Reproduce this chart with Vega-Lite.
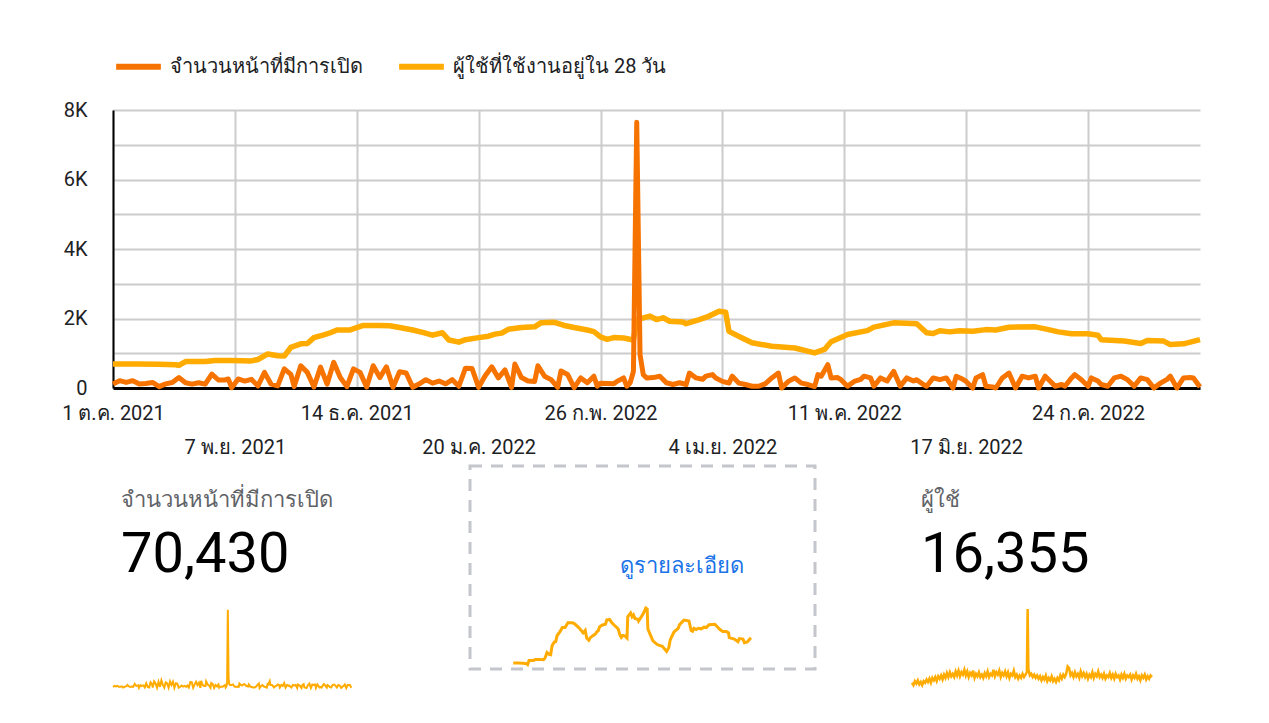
{
  "$schema": "https://vega.github.io/schema/vega-lite/v6.json",
  "background": "white",
  "padding": {"left": 61, "top": 41, "right": 10, "bottom": 10},
  "config": {
    "font": "Roboto",
    "view": {"stroke": null},
    "axis": {"labelFont": "Roboto", "titleFont": "Roboto"},
    "legend": {"labelFont": "Roboto"},
    "title": {"font": "Roboto", "subtitleFont": "Roboto"}
  },
  "datasets": {
    "views": [
      {"date":"2021-10-01","value":115},{"date":"2021-10-03","value":210},{"date":"2021-10-05","value":160},{"date":"2021-10-07","value":210},
      {"date":"2021-10-09","value":115},{"date":"2021-10-11","value":130},{"date":"2021-10-13","value":160},{"date":"2021-10-15","value":40},
      {"date":"2021-10-17","value":120},{"date":"2021-10-19","value":160},{"date":"2021-10-21","value":300},{"date":"2021-10-23","value":150},
      {"date":"2021-10-25","value":110},{"date":"2021-10-27","value":150},{"date":"2021-10-29","value":110},{"date":"2021-10-31","value":400},
      {"date":"2021-11-02","value":230},{"date":"2021-11-04","value":230},{"date":"2021-11-05","value":260},{"date":"2021-11-06","value":10},
      {"date":"2021-11-08","value":260},{"date":"2021-11-10","value":200},{"date":"2021-11-12","value":250},{"date":"2021-11-14","value":60},
      {"date":"2021-11-16","value":450},{"date":"2021-11-18","value":110},{"date":"2021-11-20","value":60},{"date":"2021-11-22","value":550},
      {"date":"2021-11-24","value":390},{"date":"2021-11-25","value":40},{"date":"2021-11-27","value":640},{"date":"2021-11-29","value":450},
      {"date":"2021-12-01","value":30},{"date":"2021-12-03","value":600},{"date":"2021-12-05","value":110},{"date":"2021-12-07","value":740},
      {"date":"2021-12-09","value":300},{"date":"2021-12-11","value":40},{"date":"2021-12-13","value":550},{"date":"2021-12-15","value":450},
      {"date":"2021-12-17","value":30},{"date":"2021-12-19","value":640},{"date":"2021-12-21","value":300},{"date":"2021-12-23","value":610},
      {"date":"2021-12-25","value":20},{"date":"2021-12-27","value":470},{"date":"2021-12-29","value":430},{"date":"2021-12-31","value":20},
      {"date":"2022-01-02","value":120},{"date":"2022-01-04","value":240},{"date":"2022-01-06","value":140},{"date":"2022-01-08","value":200},
      {"date":"2022-01-10","value":120},{"date":"2022-01-12","value":240},{"date":"2022-01-14","value":50},{"date":"2022-01-16","value":570},
      {"date":"2022-01-18","value":560},{"date":"2022-01-20","value":20},{"date":"2022-01-22","value":350},{"date":"2022-01-24","value":610},
      {"date":"2022-01-26","value":290},{"date":"2022-01-28","value":520},{"date":"2022-01-30","value":20},{"date":"2022-01-31","value":690},
      {"date":"2022-02-02","value":300},{"date":"2022-02-04","value":200},{"date":"2022-02-06","value":190},{"date":"2022-02-07","value":640},
      {"date":"2022-02-09","value":340},{"date":"2022-02-11","value":240},{"date":"2022-02-13","value":20},{"date":"2022-02-14","value":490},
      {"date":"2022-02-16","value":390},{"date":"2022-02-18","value":10},{"date":"2022-02-20","value":290},{"date":"2022-02-22","value":150},
      {"date":"2022-02-24","value":340},{"date":"2022-02-25","value":50},{"date":"2022-02-26","value":140},{"date":"2022-02-28","value":130},
      {"date":"2022-03-02","value":120},{"date":"2022-03-03","value":190},{"date":"2022-03-05","value":290},{"date":"2022-03-06","value":50},
      {"date":"2022-03-07","value":150},{"date":"2022-03-08","value":480},{"date":"2022-03-09","value":7650},{"date":"2022-03-10","value":960},
      {"date":"2022-03-11","value":380},{"date":"2022-03-12","value":290},{"date":"2022-03-14","value":300},{"date":"2022-03-16","value":340},
      {"date":"2022-03-18","value":150},{"date":"2022-03-20","value":100},{"date":"2022-03-22","value":150},{"date":"2022-03-24","value":100},
      {"date":"2022-03-25","value":430},{"date":"2022-03-27","value":290},{"date":"2022-03-29","value":250},{"date":"2022-03-30","value":340},
      {"date":"2022-04-01","value":385},{"date":"2022-04-02","value":290},{"date":"2022-04-04","value":190},{"date":"2022-04-06","value":140},
      {"date":"2022-04-07","value":340},{"date":"2022-04-09","value":140},{"date":"2022-04-11","value":100},{"date":"2022-04-13","value":50},
      {"date":"2022-04-15","value":50},{"date":"2022-04-17","value":120},{"date":"2022-04-19","value":290},{"date":"2022-04-21","value":430},
      {"date":"2022-04-22","value":0},{"date":"2022-04-24","value":190},{"date":"2022-04-26","value":290},{"date":"2022-04-28","value":140},
      {"date":"2022-04-30","value":100},{"date":"2022-05-02","value":40},{"date":"2022-05-03","value":385},{"date":"2022-05-04","value":340},
      {"date":"2022-05-06","value":670},{"date":"2022-05-07","value":290},{"date":"2022-05-09","value":300},{"date":"2022-05-10","value":240},
      {"date":"2022-05-12","value":50},{"date":"2022-05-14","value":190},{"date":"2022-05-16","value":250},{"date":"2022-05-17","value":340},
      {"date":"2022-05-19","value":290},{"date":"2022-05-20","value":50},{"date":"2022-05-22","value":290},{"date":"2022-05-24","value":200},
      {"date":"2022-05-25","value":340},{"date":"2022-05-26","value":480},{"date":"2022-05-28","value":50},{"date":"2022-05-30","value":290},
      {"date":"2022-06-01","value":200},{"date":"2022-06-02","value":240},{"date":"2022-06-04","value":100},{"date":"2022-06-05","value":50},
      {"date":"2022-06-07","value":290},{"date":"2022-06-09","value":240},{"date":"2022-06-11","value":290},{"date":"2022-06-13","value":0},
      {"date":"2022-06-14","value":340},{"date":"2022-06-16","value":250},{"date":"2022-06-17","value":190},{"date":"2022-06-19","value":0},
      {"date":"2022-06-20","value":290},{"date":"2022-06-22","value":385},{"date":"2022-06-23","value":50},{"date":"2022-06-25","value":30},
      {"date":"2022-06-26","value":0},{"date":"2022-06-28","value":290},{"date":"2022-06-30","value":430},{"date":"2022-07-02","value":0},
      {"date":"2022-07-04","value":340},{"date":"2022-07-06","value":290},{"date":"2022-07-08","value":340},{"date":"2022-07-09","value":0},
      {"date":"2022-07-11","value":340},{"date":"2022-07-13","value":150},{"date":"2022-07-14","value":50},{"date":"2022-07-16","value":100},
      {"date":"2022-07-17","value":50},{"date":"2022-07-19","value":290},{"date":"2022-07-20","value":385},{"date":"2022-07-22","value":240},
      {"date":"2022-07-24","value":50},{"date":"2022-07-25","value":290},{"date":"2022-07-27","value":200},{"date":"2022-07-28","value":100},
      {"date":"2022-07-30","value":50},{"date":"2022-08-01","value":290},{"date":"2022-08-03","value":340},{"date":"2022-08-05","value":240},
      {"date":"2022-08-07","value":50},{"date":"2022-08-09","value":290},{"date":"2022-08-11","value":240},{"date":"2022-08-13","value":0},
      {"date":"2022-08-15","value":140},{"date":"2022-08-17","value":250},{"date":"2022-08-18","value":340},{"date":"2022-08-20","value":0},
      {"date":"2022-08-22","value":290},{"date":"2022-08-24","value":300},{"date":"2022-08-25","value":290},{"date":"2022-08-27","value":30}
    ],
    "active28": [
      {"date":"2021-10-01","value":690},{"date":"2021-10-08","value":690},{"date":"2021-10-15","value":680},{"date":"2021-10-20","value":670},
      {"date":"2021-10-21","value":650},{"date":"2021-10-23","value":760},{"date":"2021-10-29","value":760},{"date":"2021-11-01","value":790},
      {"date":"2021-11-06","value":790},{"date":"2021-11-12","value":780},{"date":"2021-11-14","value":820},{"date":"2021-11-17","value":980},
      {"date":"2021-11-20","value":930},{"date":"2021-11-22","value":920},{"date":"2021-11-24","value":1170},{"date":"2021-11-27","value":1270},
      {"date":"2021-11-29","value":1280},{"date":"2021-12-01","value":1450},{"date":"2021-12-04","value":1530},{"date":"2021-12-06","value":1590},
      {"date":"2021-12-08","value":1670},{"date":"2021-12-12","value":1670},{"date":"2021-12-16","value":1800},{"date":"2021-12-21","value":1800},
      {"date":"2021-12-24","value":1790},{"date":"2021-12-27","value":1740},{"date":"2021-12-31","value":1670},{"date":"2022-01-03","value":1600},
      {"date":"2022-01-06","value":1520},{"date":"2022-01-09","value":1590},{"date":"2022-01-11","value":1380},{"date":"2022-01-14","value":1320},
      {"date":"2022-01-16","value":1390},{"date":"2022-01-20","value":1450},{"date":"2022-01-23","value":1490},{"date":"2022-01-25","value":1550},
      {"date":"2022-01-27","value":1580},{"date":"2022-01-29","value":1690},{"date":"2022-02-02","value":1740},{"date":"2022-02-06","value":1760},
      {"date":"2022-02-08","value":1880},{"date":"2022-02-12","value":1890},{"date":"2022-02-15","value":1800},{"date":"2022-02-18","value":1740},
      {"date":"2022-02-22","value":1670},{"date":"2022-02-24","value":1620},{"date":"2022-02-26","value":1470},{"date":"2022-02-28","value":1400},
      {"date":"2022-03-02","value":1450},{"date":"2022-03-05","value":1440},{"date":"2022-03-08","value":1380},{"date":"2022-03-09","value":1970},
      {"date":"2022-03-13","value":2070},{"date":"2022-03-15","value":1970},{"date":"2022-03-17","value":2020},{"date":"2022-03-19","value":1920},
      {"date":"2022-03-23","value":1900},{"date":"2022-03-24","value":1850},{"date":"2022-03-28","value":1970},{"date":"2022-03-31","value":2070},
      {"date":"2022-04-03","value":2210},{"date":"2022-04-05","value":2180},{"date":"2022-04-06","value":1630},{"date":"2022-04-10","value":1440},
      {"date":"2022-04-13","value":1300},{"date":"2022-04-19","value":1200},{"date":"2022-04-26","value":1150},{"date":"2022-05-02","value":1010},
      {"date":"2022-05-05","value":1110},{"date":"2022-05-07","value":1330},{"date":"2022-05-12","value":1540},{"date":"2022-05-18","value":1650},
      {"date":"2022-05-20","value":1750},{"date":"2022-05-26","value":1875},{"date":"2022-06-02","value":1850},{"date":"2022-06-05","value":1590},
      {"date":"2022-06-07","value":1570},{"date":"2022-06-09","value":1650},{"date":"2022-06-12","value":1615},{"date":"2022-06-15","value":1650},
      {"date":"2022-06-19","value":1635},{"date":"2022-06-23","value":1680},{"date":"2022-06-26","value":1670},{"date":"2022-06-30","value":1750},
      {"date":"2022-07-08","value":1760},{"date":"2022-07-11","value":1700},{"date":"2022-07-15","value":1615},{"date":"2022-07-19","value":1560},
      {"date":"2022-07-24","value":1560},{"date":"2022-07-27","value":1520},{"date":"2022-07-28","value":1390},{"date":"2022-08-04","value":1350},
      {"date":"2022-08-09","value":1280},{"date":"2022-08-11","value":1365},{"date":"2022-08-16","value":1350},{"date":"2022-08-18","value":1250},
      {"date":"2022-08-22","value":1270},{"date":"2022-08-27","value":1390}
    ],
    "users": [
      {"date":"2021-10-01","value":45},{"date":"2021-10-03","value":30},{"date":"2021-10-05","value":55},{"date":"2021-10-07","value":40},
      {"date":"2021-10-09","value":60},{"date":"2021-10-11","value":35},{"date":"2021-10-13","value":50},{"date":"2021-10-15","value":30},
      {"date":"2021-10-17","value":55},{"date":"2021-10-19","value":45},{"date":"2021-10-21","value":65},{"date":"2021-10-23","value":50},
      {"date":"2021-10-25","value":70},{"date":"2021-10-27","value":45},{"date":"2021-10-29","value":75},{"date":"2021-10-31","value":60},
      {"date":"2021-11-02","value":80},{"date":"2021-11-04","value":55},{"date":"2021-11-06","value":85},{"date":"2021-11-08","value":70},
      {"date":"2021-11-10","value":90},{"date":"2021-11-12","value":65},{"date":"2021-11-14","value":95},{"date":"2021-11-16","value":75},
      {"date":"2021-11-18","value":105},{"date":"2021-11-20","value":80},{"date":"2021-11-22","value":110},{"date":"2021-11-24","value":85},
      {"date":"2021-11-26","value":100},{"date":"2021-11-28","value":80},{"date":"2021-11-30","value":115},{"date":"2021-12-02","value":90},
      {"date":"2021-12-04","value":120},{"date":"2021-12-06","value":85},{"date":"2021-12-08","value":110},{"date":"2021-12-10","value":95},
      {"date":"2021-12-12","value":125},{"date":"2021-12-14","value":90},{"date":"2021-12-16","value":115},{"date":"2021-12-18","value":80},
      {"date":"2021-12-20","value":105},{"date":"2021-12-22","value":90},{"date":"2021-12-24","value":120},{"date":"2021-12-26","value":75},
      {"date":"2021-12-28","value":100},{"date":"2021-12-30","value":85},{"date":"2022-01-01","value":110},{"date":"2022-01-03","value":80},
      {"date":"2022-01-05","value":95},{"date":"2022-01-07","value":75},{"date":"2022-01-09","value":105},{"date":"2022-01-11","value":85},
      {"date":"2022-01-13","value":115},{"date":"2022-01-15","value":80},{"date":"2022-01-17","value":100},{"date":"2022-01-19","value":90},
      {"date":"2022-01-21","value":125},{"date":"2022-01-23","value":85},{"date":"2022-01-25","value":110},{"date":"2022-01-27","value":95},
      {"date":"2022-01-29","value":120},{"date":"2022-01-31","value":80},{"date":"2022-02-02","value":105},{"date":"2022-02-04","value":90},
      {"date":"2022-02-06","value":115},{"date":"2022-02-08","value":85},{"date":"2022-02-10","value":110},{"date":"2022-02-12","value":75},
      {"date":"2022-02-14","value":100},{"date":"2022-02-16","value":90},{"date":"2022-02-18","value":120},{"date":"2022-02-20","value":80},
      {"date":"2022-02-22","value":95},{"date":"2022-02-24","value":70},{"date":"2022-02-26","value":90},{"date":"2022-02-28","value":75},
      {"date":"2022-03-02","value":100},{"date":"2022-03-04","value":80},{"date":"2022-03-06","value":95},{"date":"2022-03-08","value":110},
      {"date":"2022-03-09","value":500},{"date":"2022-03-10","value":130},{"date":"2022-03-12","value":90},{"date":"2022-03-14","value":100},
      {"date":"2022-03-16","value":80},{"date":"2022-03-18","value":95},{"date":"2022-03-20","value":75},{"date":"2022-03-22","value":90},
      {"date":"2022-03-24","value":70},{"date":"2022-03-26","value":85},{"date":"2022-03-28","value":60},{"date":"2022-03-30","value":80},
      {"date":"2022-04-01","value":65},{"date":"2022-04-03","value":90},{"date":"2022-04-05","value":55},{"date":"2022-04-07","value":75},
      {"date":"2022-04-09","value":60},{"date":"2022-04-11","value":85},{"date":"2022-04-13","value":55},{"date":"2022-04-15","value":70},
      {"date":"2022-04-17","value":50},{"date":"2022-04-19","value":75},{"date":"2022-04-21","value":60},{"date":"2022-04-23","value":90},
      {"date":"2022-04-25","value":70},{"date":"2022-04-27","value":95},{"date":"2022-04-29","value":80},{"date":"2022-05-01","value":100},
      {"date":"2022-05-03","value":145},{"date":"2022-05-05","value":135},{"date":"2022-05-07","value":90},{"date":"2022-05-09","value":105},
      {"date":"2022-05-11","value":80},{"date":"2022-05-13","value":110},{"date":"2022-05-15","value":85},{"date":"2022-05-17","value":100},
      {"date":"2022-05-19","value":75},{"date":"2022-05-21","value":115},{"date":"2022-05-23","value":85},{"date":"2022-05-25","value":105},
      {"date":"2022-05-27","value":80},{"date":"2022-05-29","value":100},{"date":"2022-05-31","value":70},{"date":"2022-06-02","value":95},
      {"date":"2022-06-04","value":80},{"date":"2022-06-06","value":110},{"date":"2022-06-08","value":75},{"date":"2022-06-10","value":100},
      {"date":"2022-06-12","value":85},{"date":"2022-06-14","value":115},{"date":"2022-06-16","value":80},{"date":"2022-06-18","value":95},
      {"date":"2022-06-20","value":75},{"date":"2022-06-22","value":100},{"date":"2022-06-24","value":70},{"date":"2022-06-26","value":90},
      {"date":"2022-06-28","value":80},{"date":"2022-06-30","value":105},{"date":"2022-07-02","value":75},{"date":"2022-07-04","value":95},
      {"date":"2022-07-06","value":70},{"date":"2022-07-08","value":100},{"date":"2022-07-10","value":80},{"date":"2022-07-12","value":90},
      {"date":"2022-07-14","value":65},{"date":"2022-07-16","value":95},{"date":"2022-07-18","value":75},{"date":"2022-07-20","value":100},
      {"date":"2022-07-22","value":70},{"date":"2022-07-24","value":90},{"date":"2022-07-26","value":80},{"date":"2022-07-28","value":95},
      {"date":"2022-07-30","value":65},{"date":"2022-08-01","value":90},{"date":"2022-08-03","value":75},{"date":"2022-08-05","value":100},
      {"date":"2022-08-07","value":70},{"date":"2022-08-09","value":85},{"date":"2022-08-11","value":60},{"date":"2022-08-13","value":90},
      {"date":"2022-08-15","value":75},{"date":"2022-08-17","value":95},{"date":"2022-08-19","value":65},{"date":"2022-08-21","value":85},
      {"date":"2022-08-23","value":70},{"date":"2022-08-25","value":90},{"date":"2022-08-27","value":80}
    ]
  },
  "bounds": "flush",
  "spacing": 78,
  "vconcat": [
    {
      "width": 1087,
      "height": 278,
      "encoding": {
        "x": {
          "field": "date", "type": "temporal",
          "scale": {"type": "utc", "nice": false, "domain": [{"year": 2021, "month": 10, "date": 1, "utc": true}, {"year": 2022, "month": 8, "date": 27, "utc": true}]},
          "axis": {
            "title": null,
            "values": [
              {"year": 2021, "month": 10, "date": 1, "utc": true},
              {"year": 2021, "month": 11, "date": 7, "utc": true},
              {"year": 2021, "month": 12, "date": 14, "utc": true},
              {"year": 2022, "month": 1, "date": 20, "utc": true},
              {"year": 2022, "month": 2, "date": 26, "utc": true},
              {"year": 2022, "month": 4, "date": 4, "utc": true},
              {"year": 2022, "month": 5, "date": 11, "utc": true},
              {"year": 2022, "month": 6, "date": 17, "utc": true},
              {"year": 2022, "month": 7, "date": 24, "utc": true}
            ],
            "labelExpr": "utcdate(datum.value) + ' ' + ['ม.ค.','ก.พ.','มี.ค.','เม.ย.','พ.ค.','มิ.ย.','ก.ค.','ส.ค.','ก.ย.','ต.ค.','พ.ย.','ธ.ค.'][utcmonth(datum.value)] + ' ' + utcyear(datum.value)",
            "labelFlush": false,
            "labelOverlap": false,
            "labelFontSize": 20,
            "labelColor": "#202124",
            "labelPadding": {"condition": {"test": "indexof([0,3,5,10], utcmonth(datum.value)) >= 0", "value": 49}, "value": 15},
            "tickSize": 0,
            "domainColor": "#000000",
            "domainWidth": 3,
            "gridColor": "#cccccc",
            "gridWidth": 2
          }
        },
        "y": {
          "field": "value", "type": "quantitative",
          "scale": {"domain": [0, 8000], "nice": false},
          "axis": {
            "title": null,
            "values": [0, 1000, 2000, 3000, 4000, 5000, 6000, 7000, 8000],
            "labelExpr": "datum.value % 2000 ? '' : (datum.value == 0 ? '0' : (datum.value / 1000) + 'K')",
            "labelFontSize": 20,
            "labelColor": "#202124",
            "labelPadding": 26,
            "tickSize": 0,
            "domainColor": "#000000",
            "domainWidth": 2,
            "gridColor": "#cccccc",
            "gridWidth": 2
          }
        }
      },
      "layer": [
        {
          "data": {"name": "active28"},
          "mark": {"type": "line", "strokeWidth": 5.5, "strokeJoin": "round"},
          "encoding": {
            "color": {
              "datum": "ผู้ใช้ที่ใช้งานอยู่ใน 28 วัน", "type": "nominal",
              "scale": {"domain": ["จำนวนหน้าที่มีการเปิด", "ผู้ใช้ที่ใช้งานอยู่ใน 28 วัน"], "range": ["#F77300", "#FFAB00"]},
              "legend": {
                "orient": "top", "title": null, "direction": "horizontal",
                "symbolType": "stroke", "symbolStrokeWidth": 6, "symbolSize": 2000,
                "labelFontSize": 20, "labelColor": "#202124", "labelLimit": 400,
                "labelOffset": 6, "columnPadding": 24, "offset": 21
              }
            }
          }
        },
        {
          "data": {"name": "views"},
          "mark": {"type": "line", "strokeWidth": 5, "strokeJoin": "round"},
          "encoding": {
            "color": {"datum": "จำนวนหน้าที่มีการเปิด", "type": "nominal"}
          }
        }
      ]
    },
    {
      "bounds": "flush",
      "spacing": 97,
      "hconcat": [
        {
          "width": 260,
          "height": 225,
          "data": {"name": "views"},
          "title": {
            "text": "จำนวนหน้าที่มีการเปิด", "subtitle": "70,430",
            "anchor": "start", "offset": -118, "dx": 12,
            "fontSize": 22, "fontWeight": "normal", "color": "#5f6368",
            "subtitleFontSize": 56, "subtitleColor": "#000000", "subtitlePadding": 16
          },
          "mark": {"type": "line", "strokeWidth": 2, "color": "#FFAB00"},
          "encoding": {
            "x": {"field": "date", "type": "temporal", "axis": null,
              "scale": {"type": "utc", "nice": false, "domain": [{"year": 2021, "month": 10, "date": 1, "utc": true}, {"year": 2022, "month": 9, "date": 26, "utc": true}]}},
            "y": {"field": "value", "type": "quantitative", "axis": null,
              "scale": {"domain": [-294, 21674], "nice": false, "zero": false}}
          }
        },
        {
          "width": 345,
          "height": 203,
          "view": {"stroke": "#c4c6cb", "strokeWidth": 3, "strokeDash": [12, 9]},
          "data": {"name": "active28"},
          "title": {
            "text": "ดูรายละเอียด",
            "anchor": "start", "offset": -112, "dx": 150,
            "fontSize": 22, "fontWeight": "normal", "color": "#1a73e8"
          },
          "mark": {"type": "line", "strokeWidth": 3, "color": "#FFAB00"},
          "encoding": {
            "x": {"field": "date", "type": "temporal", "axis": null,
              "scale": {"type": "utc", "nice": false, "domain": [{"year": 2021, "month": 8, "date": 2, "utc": true}, {"year": 2022, "month": 11, "date": 24, "utc": true}]}},
            "y": {"field": "value", "type": "quantitative", "axis": null,
              "scale": {"domain": [524, 6135], "nice": false, "zero": false}}
          }
        },
        {
          "width": 240,
          "height": 225,
          "data": {"name": "users"},
          "title": {
            "text": "ผู้ใช้", "subtitle": "16,355",
            "anchor": "start", "offset": -118, "dx": 14,
            "fontSize": 22, "fontWeight": "normal", "color": "#5f6368",
            "subtitleFontSize": 56, "subtitleColor": "#000000", "subtitlePadding": 16
          },
          "mark": {"type": "line", "strokeWidth": 2.5, "color": "#FFAB00"},
          "encoding": {
            "x": {"field": "date", "type": "temporal", "axis": null,
              "scale": {"type": "utc", "nice": false, "domain": [{"year": 2021, "month": 10, "date": 1, "utc": true}, {"year": 2022, "month": 8, "date": 27, "utc": true}]}},
            "y": {"field": "value", "type": "quantitative", "axis": null,
              "scale": {"domain": [-6, 1383], "nice": false, "zero": false}}
          }
        }
      ]
    }
  ]
}
